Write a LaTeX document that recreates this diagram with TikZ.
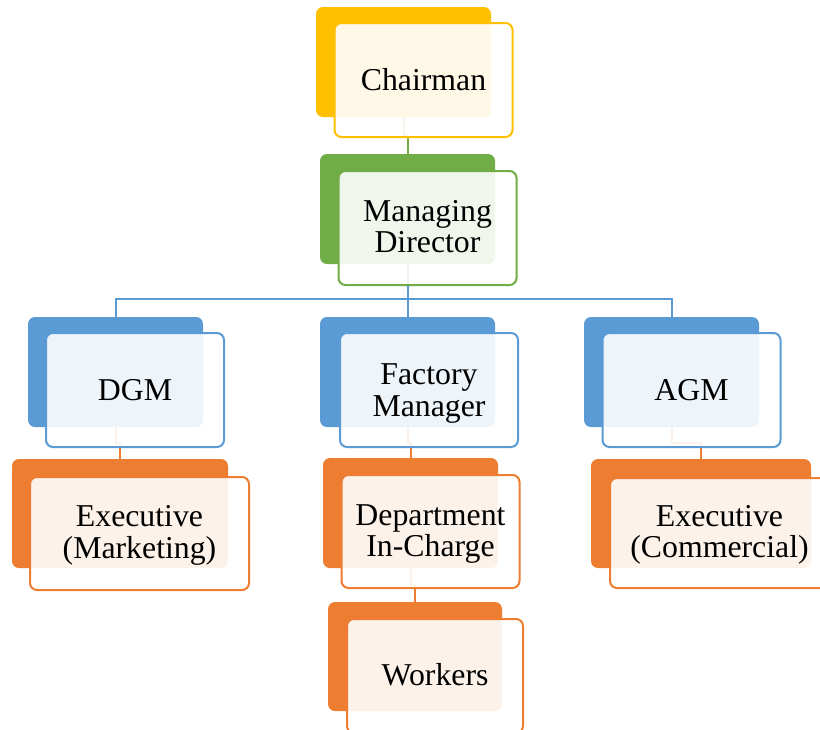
\documentclass[tikz,border=0pt]{standalone}
\usepackage{fontspec}
\setmainfont{Liberation Serif}
\usetikzlibrary{calc}
\definecolor{cyel}{HTML}{FFC000}
\definecolor{cgrn}{HTML}{70AD47}
\definecolor{cblu}{HTML}{5B9BD5}
\definecolor{corg}{HTML}{ED7D31}
\tikzset{
  backbox/.style={rectangle, rounded corners=3.5pt, fill=#1, draw=none,
    minimum width=87.5pt, minimum height=55pt, inner sep=0pt},
  frontbox/.style={rectangle, rounded corners=3.5pt, fill=white, fill opacity=0.9,
    draw=#1, line width=1pt, minimum width=89pt, minimum height=57pt, inner sep=0pt},
  wide/.style={minimum width=109.5pt},
  wideback/.style={minimum width=108pt, minimum height=54.5pt},
  conn/.style={draw=#1, line width=1pt},
  title/.style={anchor=base, inner sep=0pt, font=\fontsize{15.9pt}{16.3pt}\selectfont}
}
\begin{document}
\begin{tikzpicture}[x=0.5pt, y=-0.5pt]
\useasboundingbox (0,0) rectangle (820,729);
\clip (0,0) rectangle (820,729);

% coloured back plates
\node[backbox=cyel] (chairB) at (403.5,62) {};
\node[backbox=cgrn] (mdB) at (407.5,209) {};
\node[backbox=cblu] (dgmB) at (115.5,372) {};
\node[backbox=cblu] (fmB) at (407.5,372) {};
\node[backbox=cblu] (agmB) at (671.5,372) {};
\node[backbox=corg, wideback] (exmB) at (120,513.5) {};
\node[backbox=corg] (deptB) at (410.5,513) {};
\node[backbox=corg, minimum width=87pt, minimum height=54.5pt] (workB) at (415,656.5) {};
\node[backbox=corg, wideback, minimum width=110pt] (excB) at (701,513.5) {};

% connectors
\coordinate (bus) at (407.5,299);
\draw[conn=cgrn] (chairB.south) |- ($(chairB.south)!0.5!(mdB.north)$) -| (mdB.north);
\draw[conn=cblu] (mdB.south) -- (fmB.north);
\draw[conn=cblu] (dgmB.north) |- (bus) -| (agmB.north);
\draw[conn=corg] (dgmB.south) |- ($(dgmB.south)!0.5!(exmB.north)$) -| (exmB.north);
\draw[conn=corg] (fmB.south) |- ($(fmB.south)!0.5!(deptB.north)$) -| (deptB.north);
\draw[conn=corg] (deptB.south) |- ($(deptB.south)!0.5!(workB.north)$) -| (workB.north);
\draw[conn=corg] (agmB.south) |- ($(agmB.south)!0.5!(excB.north)$) -| (excB.north);

% translucent front cards
\node[frontbox=cyel] (chair) at (423.5,80) {};
\node[frontbox=cgrn] (md) at (427.5,228) {};
\node[frontbox=cblu] (dgm) at (135,390) {};
\node[frontbox=cblu] (fm) at (429,390) {};
\node[frontbox=cblu] (agm) at (691.5,390) {};
\node[frontbox=corg, wide, minimum height=56.5pt] (exm) at (139.5,533.5) {};
\node[frontbox=corg, minimum height=56.5pt] (dept) at (430.5,531.5) {};
\node[frontbox=corg, minimum width=88pt] (work) at (435,676) {};
\node[frontbox=corg, wide, minimum height=55pt] (exc) at (719.5,533) {};

% titles, one line per node, set on their baselines
\node[title] (chairT) at (chair |- 0,90) {Chairman};
\node[title] (mdT1) at (md |- 0,221) {Managing};
\node[title] (mdT2) at (md |- 0,252) {Director};
\node[title] (dgmT) at (dgm |- 0,400) {DGM};
\node[title] (fmT1) at (fm |- 0,384) {Factory};
\node[title] (fmT2) at (fm |- 0,416) {Manager};
\node[title] (agmT) at (agm |- 0,400) {AGM};
\node[title] (exmT1) at (exm |- 0,526) {Executive};
\node[title] (exmT2) at (exm |- 0,558) {(Marketing)};
\node[title] (deptT1) at (dept |- 0,525) {Department};
\node[title] (deptT2) at (dept |- 0,556) {In-Charge};
\node[title] (workT) at (work |- 0,685) {Workers};
\node[title] (excT1) at (exc |- 0,526) {Executive};
\node[title] (excT2) at (exc |- 0,557.5) {(Commercial)};
\end{tikzpicture}
\end{document}
